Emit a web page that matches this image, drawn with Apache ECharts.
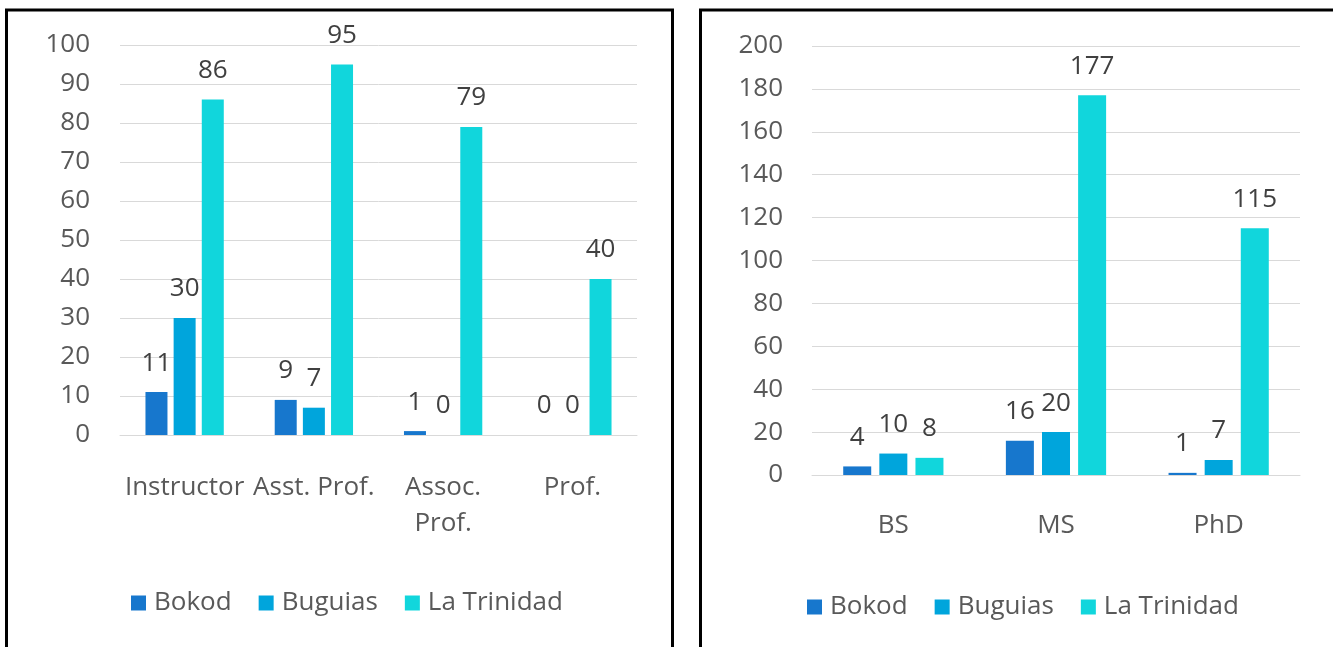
<!DOCTYPE html>
<html>
<head>
<meta charset="utf-8">
<script src="https://cdn.jsdelivr.net/npm/echarts@6/dist/echarts.min.js"></script>
<style>
html,body{margin:0;padding:0;background:#fff;}
#main{width:1333px;height:647px;}
</style>
</head>
<body>
<div id="main"></div>
<script>
// Left chart: academic rank
const rankCategories = ['Instructor', 'Asst. Prof.', 'Assoc. Prof.', 'Prof.'];
const rankBokod = [11, 9, 1, 0];
const rankBuguias = [30, 7, 0, 0];
const rankLaTrinidad = [86, 95, 79, 40];

// Right chart: educational attainment
const degreeCategories = ['BS', 'MS', 'PhD'];
const degreeBokod = [4, 16, 1];
const degreeBuguias = [10, 20, 7];
const degreeLaTrinidad = [8, 177, 115];

const seriesNames = ['Bokod', 'Buguias', 'La Trinidad'];
const colors = ['#1777CD', '#00A5DC', '#11D6DC'];

const FONT = 'Open Sans';
const tickColor = '#595959';
const labelColor = '#404040';
const gridColor = '#D9D9D9';

function barSeries(name, data, idx, barWidth, barGap, color) {
  return {
    name: name,
    type: 'bar',
    xAxisIndex: idx,
    yAxisIndex: idx,
    data: data,
    barWidth: barWidth,
    barGap: barGap,
    itemStyle: { color: color },
    label: {
      show: true,
      position: 'top',
      distance: 16,
      fontFamily: FONT,
      fontSize: 26,
      color: labelColor
    }
  };
}

const legendText = { fontFamily: FONT, fontSize: 26, color: tickColor, padding: [0, 0, 0, 3] };

const chart = echarts.init(document.getElementById('main'));
chart.setOption({
  animation: false,
  backgroundColor: '#fff',
  color: colors,
  textStyle: { fontFamily: FONT },
  graphic: [
    { type: 'rect', shape: { x: 6.5, y: 10, width: 666, height: 700 },
      style: { fill: 'none', stroke: '#000', lineWidth: 3 }, silent: true },
    { type: 'rect', shape: { x: 700.5, y: 10, width: 700, height: 700 },
      style: { fill: 'none', stroke: '#000', lineWidth: 3 }, silent: true }
  ],
  grid: [
    { left: 120, right: 696, top: 45, bottom: 212 },
    { left: 812, right: 33, top: 46, bottom: 172 }
  ],
  legend: [
    { data: seriesNames, left: 131, top: 590, padding: 0, itemWidth: 15, itemHeight: 15,
      itemGap: 27, icon: 'rect', textStyle: legendText },
    { data: seriesNames, left: 807, top: 594, padding: 0, itemWidth: 15, itemHeight: 15,
      itemGap: 27, icon: 'rect', textStyle: legendText }
  ],
  xAxis: [
    { type: 'category', gridIndex: 0, data: rankCategories,
      axisLine: { lineStyle: { color: gridColor, width: 1 } },
      axisTick: { show: false },
      axisLabel: { interval: 0, hideOverlap: false, margin: 35, lineHeight: 36,
        fontFamily: FONT, fontSize: 26, color: tickColor,
        formatter: v => v === 'Assoc. Prof.' ? 'Assoc.\nProf.' : v } },
    { type: 'category', gridIndex: 1, data: degreeCategories,
      axisLine: { lineStyle: { color: gridColor, width: 1 } },
      axisTick: { show: false },
      axisLabel: { interval: 0, margin: 33, lineHeight: 36,
        fontFamily: FONT, fontSize: 26, color: tickColor } }
  ],
  yAxis: [
    { type: 'value', gridIndex: 0, min: 0, max: 100, interval: 10,
      axisLine: { show: false }, axisTick: { show: false },
      splitLine: { lineStyle: { color: gridColor, width: 1 } },
      axisLabel: { margin: 30, fontFamily: FONT, fontSize: 26, color: tickColor } },
    { type: 'value', gridIndex: 1, min: 0, max: 200, interval: 20,
      axisLine: { show: false }, axisTick: { show: false },
      splitLine: { lineStyle: { color: gridColor, width: 1 } },
      axisLabel: { margin: 29, fontFamily: FONT, fontSize: 26, color: tickColor } }
  ],
  series: [
    barSeries('Bokod', rankBokod, 0, 22, '28%', colors[0]),
    barSeries('Buguias', rankBuguias, 0, 22, '28%', colors[1]),
    barSeries('La Trinidad', rankLaTrinidad, 0, 22, '28%', colors[2]),
    barSeries('Bokod', degreeBokod, 1, 28, '29%', colors[0]),
    barSeries('Buguias', degreeBuguias, 1, 28, '29%', colors[1]),
    barSeries('La Trinidad', degreeLaTrinidad, 1, 28, '29%', colors[2])
  ]
});
</script>
</body>
</html>
